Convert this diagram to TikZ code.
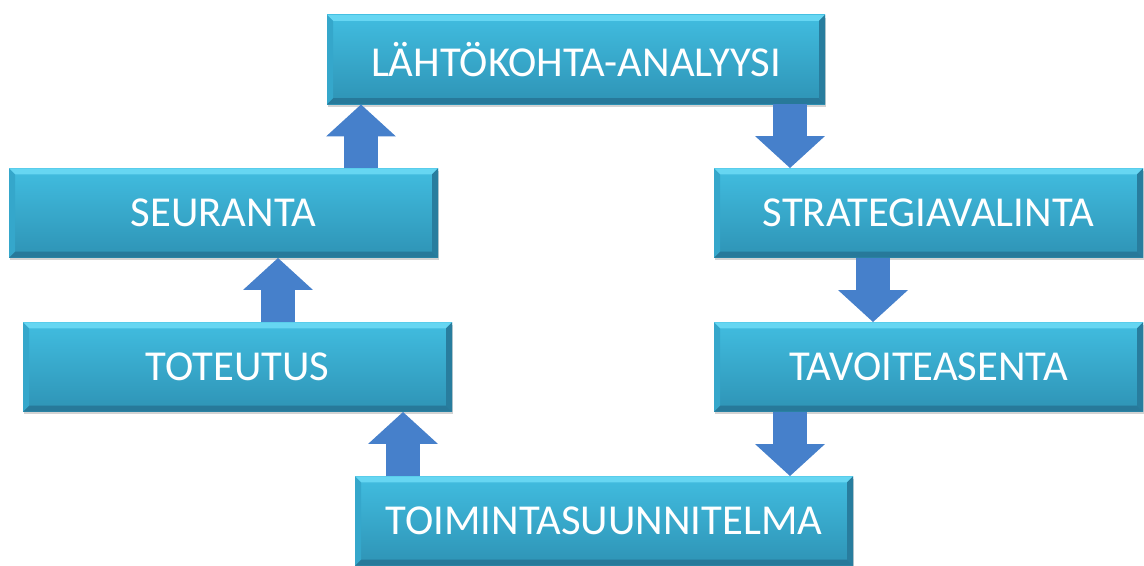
\documentclass[tikz,border=0pt]{standalone}
\usepackage{fontspec}
\setmainfont{Carlito}
\usepackage{xcolor}
\usepackage{tikz}
\usetikzlibrary{arrows.meta,calc,shadows}
\definecolor{boxtop}{HTML}{41BDE0}
\definecolor{boxbot}{HTML}{2E93B5}
\definecolor{bevhi}{HTML}{66D6F2}
\definecolor{bevlo}{HTML}{27799A}
\definecolor{bevside}{HTML}{35A7CB}
\definecolor{arrowblue}{HTML}{4680CB}
\newcommand{\bevw}{4.5pt}
\tikzset{
  phase/.style={rectangle, top color=boxtop, bottom color=boxbot,
                minimum height=67pt, inner sep=0pt, text=white,
                font=\fontsize{32}{37}\selectfont,
                drop shadow={shadow xshift=1pt, shadow yshift=-2pt, opacity=0.35},
                path picture={
                  \coordinate (nw) at (path picture bounding box.north west);
                  \coordinate (ne) at (path picture bounding box.north east);
                  \coordinate (sw) at (path picture bounding box.south west);
                  \coordinate (se) at (path picture bounding box.south east);
                  \fill[bevhi] (nw) -- (ne) -- ([shift={(-\bevw,-\bevw)}]ne) -- ([shift={(\bevw,-\bevw)}]nw) -- cycle;
                  \fill[bevlo] (sw) -- (se) -- ([shift={(-\bevw,\bevw)}]se) -- ([shift={(\bevw,\bevw)}]sw) -- cycle;
                  \fill[bevside] (nw) -- ([shift={(\bevw,-\bevw)}]nw) -- ([shift={(\bevw,\bevw)}]sw) -- (sw) -- cycle;
                  \fill[bevlo!85!boxbot] (ne) -- ([shift={(-\bevw,-\bevw)}]ne) -- ([shift={(-\bevw,\bevw)}]se) -- (se) -- cycle;
                }},
  wide/.style={phase, minimum width=373.5pt},
  narrow/.style={phase, minimum width=321.75pt},
  flow/.style={draw=arrowblue, line width=26pt,
               -{Triangle[length=24pt, width=51pt]}},
}

\begin{document}
\begin{tikzpicture}[x=0.75pt, y=-0.75pt]
  \useasboundingbox (0,0) rectangle (1144,565);
  \node[wide] (lahto) at (576,59.5) {LÄHTÖKOHTA-ANALYYSI};
  \node[narrow] (strat) at (928.5,213) {STRATEGIAVALINTA};
  \node[narrow] (tavo) at (928.5,367) {TAVOITEASENTA};
  \node[wide] (toimi) at (604,521) {TOIMINTASUUNNITELMA};
  \node[narrow] (toteu) at (237.5,367) {TOTEUTUS};
  \node[narrow] (seur) at (223.5,213) {SEURANTA};
  \draw[flow] ($(seur.north)+(137.5,0)$) -- ($(lahto.south)+(-215,0)$);
  \draw[flow] ($(lahto.south)+(214,0)$) -- ($(strat.north)+(-138.5,0)$);
  \draw[flow] ($(strat.south)+(-55.5,0)$) -- ($(tavo.north)+(-55.5,0)$);
  \draw[flow] ($(tavo.south)+(-138.5,0)$) -- ($(toimi.north)+(186,0)$);
  \draw[flow] ($(toimi.north)+(-201,0)$) -- ($(toteu.south)+(165.5,0)$);
  \draw[flow] ($(toteu.north)+(40.5,0)$) -- ($(seur.south)+(54.5,0)$);
\end{tikzpicture}
\end{document}
